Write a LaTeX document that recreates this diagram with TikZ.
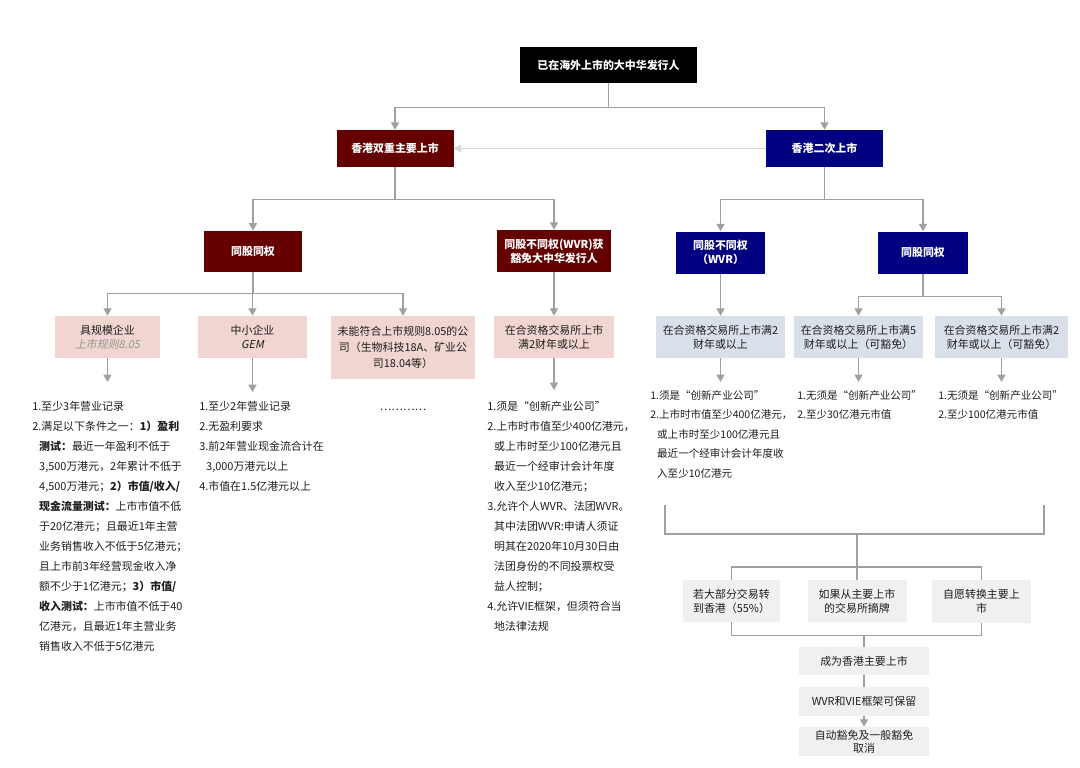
\documentclass[tikz,border=0pt]{standalone}
\usepackage{fontspec}
\setmainfont{Noto Sans CJK SC}
\newfontfamily\slantcjk[FakeSlant=0.2]{Noto Sans CJK SC}
\usetikzlibrary{arrows.meta}
\definecolor{dkred}{RGB}{100,0,0}
\definecolor{navyc}{RGB}{0,0,128}
\definecolor{pinkf}{RGB}{240,213,208}
\definecolor{bluef}{RGB}{218,224,234}
\definecolor{grayf}{RGB}{240,240,240}
\definecolor{lineg}{RGB}{160,160,160}
\definecolor{paleg}{RGB}{215,215,215}
\definecolor{txtc}{RGB}{30,30,30}
\definecolor{slg}{RGB}{150,150,150}
\newcommand\myind{\hspace*{5.2pt}}
\begin{document}
\begin{tikzpicture}[x=0.75pt,y=-0.75pt,
  every node/.style={inner sep=0pt},
  solidbx/.style={fill=#1, text=white, align=center, font=\fontsize{8.2}{10.5}\selectfont\bfseries},
  lightbx/.style={fill=#1, text=txtc, align=center, font=\fontsize{8.2}{10.5}\selectfont},
  txtblk/.style={anchor=north west, align=left, text=txtc, font=\fontsize{8.2}{15}\selectfont},
  txtblks/.style={anchor=north west, align=left, text=txtc, font=\fontsize{7.9}{14.7}\selectfont},
  conn/.style={draw=lineg, line width=0.85pt},
  arr/.style={conn, -{Triangle[length=5.5pt,width=6pt]}}]
\fill[white] (0,0) rectangle (1080,767);
\useasboundingbox (0,0) rectangle (1080,767);

% level 0 and 1
\node[solidbx=black, minimum width=132.75pt, minimum height=27pt] (top) at (608.5,65) {已在海外上市的大中华发行人};
\node[solidbx=dkred, minimum width=87.75pt, minimum height=27.75pt] (dual) at (395,148.5) {香港双重主要上市};
\node[solidbx=navyc, minimum width=87.75pt, minimum height=27.75pt] (sec) at (824.5,148.5) {香港二次上市};

% level 2
\node[solidbx=dkred, minimum width=73.5pt, minimum height=31pt] (rsame) at (253,251.5) {同股同权};
\node[solidbx=dkred, minimum width=85.5pt, minimum height=31.5pt] (rwvr) at (554,251) {同股不同权(WVR)获\\豁免大中华发行人};
\node[solidbx=navyc, minimum width=66.75pt, minimum height=31.5pt] (nwvr) at (720.5,252.5) {同股不同权\\（WVR）};
\node[solidbx=navyc, minimum width=67.5pt, minimum height=31.5pt] (nsame) at (923,252.5) {同股同权};

% level 3
\node[lightbx=pinkf, minimum width=78.75pt, minimum height=31.5pt] (big) at (107.5,337) {具规模企业\\{\slantcjk\color{slg}上市规则8.05}};
\node[lightbx=pinkf, minimum width=81.75pt, minimum height=31.5pt] (gem) at (252.5,337) {中小企业\\{\slantcjk GEM}};
\node[lightbx=pinkf, minimum width=108pt, minimum height=47.25pt, font=\fontsize{8.2}{12}\selectfont] (fail) at (403,347.5) {未能符合上市规则8.05的公\\司（生物科技18A、矿业公\\司18.04等）};
\node[lightbx=pinkf, minimum width=90pt, minimum height=31.5pt] (pwvr) at (554,337) {在合资格交易所上市\\满2财年或以上};
\node[lightbx=bluef, minimum width=96.75pt, minimum height=31.5pt] (b2) at (720.5,337) {在合资格交易所上市满2\\财年或以上};
\node[lightbx=bluef, minimum width=96.75pt, minimum height=31.5pt] (b5) at (858.5,337) {在合资格交易所上市满5\\财年或以上（可豁免）};
\node[lightbx=bluef, minimum width=99.75pt, minimum height=31.5pt] (b2x) at (1001.5,337) {在合资格交易所上市满2\\财年或以上（可豁免）};

% text blocks
\node[txtblk] (lt) at (32,401) {1.至少3年营业记录\\
2.满足以下条件之一：\textbf{1）盈利}\\
\myind\textbf{测试：}最近一年盈利不低于\\
\myind 3,500万港元，2年累计不低于\\
\myind 4,500万港元；\textbf{2）市值/收入/}\\
\myind\textbf{现金流量测试：}上市市值不低\\
\myind 于20亿港元；且最近1年主营\\
\myind 业务销售收入不低于5亿港元；\\
\myind 且上市前3年经营现金收入净\\
\myind 额不少于1亿港元；\textbf{3）市值/}\\
\myind\textbf{收入测试：}上市市值不低于40\\
\myind 亿港元，且最近1年主营业务\\
\myind 销售收入不低于5亿港元};
\node[txtblk] (gt) at (199,401) {1.至少2年营业记录\\
2.无盈利要求\\
3.前2年营业现金流合计在\\
\myind 3,000万港元以上\\
4.市值在1.5亿港元以上};
\node[text=txtc, font=\fontsize{8.2}{10}\selectfont] (dots) at (403,410) {…………};
\node[txtblk] (wt) at (487,401) {1.须是“创新产业公司”\\
2.上市时市值至少400亿港元，\\
\myind 或上市时至少100亿港元且\\
\myind 最近一个经审计会计年度\\
\myind 收入至少10亿港元；\\
3.允许个人WVR、法团WVR。\\
\myind 其中法团WVR:申请人须证\\
\myind 明其在2020年10月30日由\\
\myind 法团身份的不同投票权受\\
\myind 益人控制；\\
4.允许VIE框架，但须符合当\\
\myind 地法律法规};
\node[txtblks] (t2) at (650,390) {1.须是“创新产业公司”\\
2.上市时市值至少400亿港元，\\
\myind 或上市时至少100亿港元且\\
\myind 最近一个经审计会计年度收\\
\myind 入至少10亿港元};
\node[txtblks] (t5) at (797,390) {1.无须是“创新产业公司”\\
2.至少30亿港元市值};
\node[txtblks] (t2x) at (938,390) {1.无须是“创新产业公司”\\
2.至少100亿港元市值};

% bottom flow
\node[lightbx=grayf, minimum width=72.75pt, minimum height=31.5pt] (g1) at (731.5,601) {若大部分交易转\\到香港（55\%）};
\node[lightbx=grayf, minimum width=74.25pt, minimum height=31.5pt] (g2) at (857,601) {如果从主要上市\\的交易所摘牌};
\node[lightbx=grayf, minimum width=74.25pt, minimum height=32.25pt] (g3) at (981.5,601.5) {自愿转换主要上\\市};
\node[lightbx=grayf, minimum width=97.5pt, minimum height=21pt] (become) at (864,661) {成为香港主要上市};
\node[lightbx=grayf, minimum width=97.5pt, minimum height=21.75pt] (keep) at (864,701.5) {WVR和VIE框架可保留};
\node[lightbx=grayf, minimum width=97.5pt, minimum height=21.75pt, font=\fontsize{8.2}{10}\selectfont] (cancel) at (864,741.5) {自动豁免及一般豁免\\取消};

% coordinates
\coordinate (abig) at (107.5,382);
\coordinate (agem) at (252.5,392);
\coordinate (apw) at (554,390);
\coordinate (ab2) at (720.5,382);
\coordinate (ab5) at (858.5,382);
\coordinate (ab2x) at (1001.5,382);
\coordinate (lt1) at (665,505);
\coordinate (lb1) at (665,534);
\coordinate (rb1) at (1044,534);
\coordinate (rt1) at (1044,505);
\coordinate (mid1) at (857,534);

% connectors
\draw[arr] (top.south) -- ++(0,24) -| (dual.north);
\draw[arr] (top.south) -- ++(0,24) -| (sec.north);
\draw[arr, draw=paleg] (sec.west) -- (dual.east);
\draw[arr] (dual.south) -- ++(0,32) -| (rsame.north);
\draw[arr] (dual.south) -- ++(0,32) -| (rwvr.north);
\draw[arr] (sec.south) -- ++(0,32) -| (nwvr.north);
\draw[arr] (sec.south) -- ++(0,32) -| (nsame.north);
\draw[arr] (rsame.south) -- ++(0,21) -| (big.north);
\draw[arr] (rsame.south) -- ++(0,21) -| (gem.north);
\draw[arr] (rsame.south) -- ++(0,21) -| (fail.north);
\draw[arr] (rwvr.south) -- (pwvr.north);
\draw[arr] (nwvr.south) -- (b2.north);
\draw[arr] (nsame.south) -- ++(0,23) -| (b5.north);
\draw[arr] (nsame.south) -- ++(0,23) -| (b2x.north);
\draw[arr] (big.south) -- (abig);
\draw[arr] (gem.south) -- (agem);
\draw[arr] (pwvr.south) -- (apw);
\draw[arr] (b2.south) -- (ab2);
\draw[arr] (b5.south) -- (ab5);
\draw[arr] (b2x.south) -- (ab2x);
\draw[conn] (lt1) -- (lb1) -- (rb1) -- (rt1);
\draw[conn] (mid1) -- ++(0,33) -| (g1.north);
\draw[conn] (mid1) -- (g2.north);
\draw[conn] (mid1) -- ++(0,33) -| (g3.north);
\draw[conn] (g1.south) -- ++(0,13) -| (become.north);
\draw[conn] (g3.south) -- ++(0,12.5) -| (become.north);
\draw[conn] (become.south) -- (keep.north);
\draw[arr] (keep.south) -- (cancel.north);
\end{tikzpicture}
\end{document}
